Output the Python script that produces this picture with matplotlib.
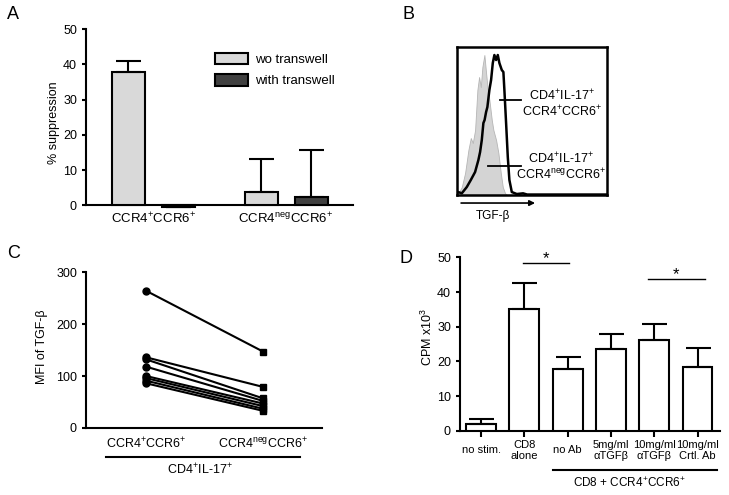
import matplotlib
matplotlib.use("Agg")
import matplotlib.pyplot as plt

plt.rcParams['font.family'] = ['Liberation Sans', 'DejaVu Sans']
plt.rcParams['mathtext.fontset'] = 'custom'
plt.rcParams['mathtext.rm'] = 'Liberation Sans'
plt.rcParams['mathtext.it'] = 'Liberation Sans:italic'
plt.rcParams['mathtext.bf'] = 'Liberation Sans:bold'
plt.rcParams['axes.linewidth'] = 1.5

# ---- data ----
# A: % suppression
a_groups = [r'CCR4$^{+}$CCR6$^{+}$', r'CCR4$^{\rm neg}$CCR6$^{+}$']
a_wo = [37.8, 3.8]
a_wo_err = [3.2, 9.3]
a_with = [-0.5, 2.4]
a_with_err = [0.0, 13.3]

# B: TGF-beta histograms (channel, count)
gray_x = [0, 1.3, 4.7, 8, 11.3, 13.7, 15.7, 18, 20.3, 22, 23.7, 25.3, 27.3, 29, 30.7,
          32.3, 34.7, 36.3, 39, 41.3, 43.7, 45.7, 48, 50]
gray_h = [0, 1.7, 8, 22, 45, 57, 52, 65, 105, 118, 108, 128, 140, 122, 105,
          95, 75, 65, 55, 42, 22, 8, 1.7, 0]
black_x = [0, 0.3, 4.7, 9.7, 13.7, 18, 21.3, 23, 24.7, 26.3, 27.5, 29, 30.3, 32.3, 34,
           35.7, 37.3, 39, 40.7, 42.3, 44.7, 46.3, 47.3, 49, 50.7, 52.3, 54.7, 59.7, 66, 70, 150]
black_h = [2, 3.3, 1.7, 8, 15, 23, 35, 43, 55, 72, 75, 83, 88, 105, 115,
           132, 140, 135, 140, 132, 125, 123, 105, 72, 38, 15, 3, 1, 1.7, 0.5, 0.5]

# C: MFI of TGF-beta, paired
c_pos = [264, 136, 132, 118, 100, 96, 91, 86]
c_neg = [147, 79, 57, 52, 47, 42, 37, 33]
c_labels = [r'CCR4$^{+}$CCR6$^{+}$', r'CCR4$^{\rm neg}$CCR6$^{+}$']

# D: proliferation
d_labels = ['no stim.', 'CD8\nalone', 'no Ab', '5mg/ml\nαTGFβ', '10mg/ml\nαTGFβ', '10mg/ml\nCrtl. Ab']
d_vals = [1.9, 35.1, 17.8, 23.6, 26.1, 18.4]
d_err = [1.5, 7.6, 3.6, 4.3, 4.6, 5.4]

fig = plt.figure(figsize=(7.29, 4.95), dpi=100)

# ---- panel A ----
axA = fig.add_axes([0.118, 0.5745, 0.3663, 0.3669])
off, w = 0.188, 0.248
xs = [0, 1]
axA.bar([x - off for x in xs], a_wo, w, color='#d9d9d9', edgecolor='black', lw=1.5,
        yerr=[[0, 0], a_wo_err], capsize=9, error_kw=dict(lw=1.5, capthick=1.5),
        label='wo transwell', zorder=3)
axA.bar([x + off for x in xs], a_with, w, color='#404040', edgecolor='black', lw=1.5,
        yerr=[[0, 0], a_with_err], capsize=9, error_kw=dict(lw=1.5, capthick=1.5),
        label='with transwell', zorder=3)
axA.set_xlim(-0.504, 1.504)
axA.set_ylim(-1.5, 50)
axA.set_yticks([0, 10, 20, 30, 40, 50])
axA.spines['bottom'].set_position(('data', 0))
axA.spines['left'].set_bounds(0, 50)
for s in ['top', 'right']:
    axA.spines[s].set_visible(False)
axA.set_xticks(xs)
axA.set_xticklabels(a_groups, fontsize=9.5)
axA.tick_params(axis='x', length=0, pad=4)
axA.tick_params(axis='y', length=3, width=1.5, labelsize=9)
axA.text(-0.12, 0.485, '% suppression', rotation=90, ha='center', va='center',
         transform=axA.transAxes, fontsize=9)
axA.legend(loc='upper left', bbox_to_anchor=(0.483, 0.87), frameon=False, fontsize=9.5,
           handlelength=2.5, handleheight=1.0, handletextpad=0.55, labelspacing=0.6,
           borderpad=0, borderaxespad=0)

# ---- panel B ----
axB = fig.add_axes([0.627, 0.606, 0.2058, 0.299])
axB.fill_between(gray_x, gray_h, color='#d4d4d4', edgecolor='#b5b5b5', lw=0.6)
axB.plot(black_x, black_h, color='black', lw=1.8)
axB.set_xlim(0, 150)
axB.set_ylim(0, 148)
axB.set_xticks([])
axB.set_yticks([])
for s in axB.spines.values():
    s.set_linewidth(1.8)
axB.annotate('', xy=(78, -8), xytext=(4, -8), annotation_clip=False,
             arrowprops=dict(arrowstyle='-|>', lw=1.2, color='black', mutation_scale=8,
                             shrinkA=0, shrinkB=0))
axB.text(36, -21, 'TGF-β', ha='center', va='center', fontsize=8.5)
axB.plot([43, 64], [95, 95], color='black', lw=1.3)
axB.text(105, 91, 'CD4$^{+}$IL-17$^{+}$\nCCR4$^{+}$CCR6$^{+}$', ha='center', va='center',
         fontsize=9, linespacing=1.1)
axB.plot([31, 64], [29, 29], color='black', lw=1.3)
axB.text(104, 28.5, 'CD4$^{+}$IL-17$^{+}$\nCCR4$^{\\rm neg}$CCR6$^{+}$', ha='center',
         va='center', fontsize=9, linespacing=1.1)

# ---- panel C ----
axC = fig.add_axes([0.118, 0.1354, 0.3237, 0.315])
for p, n in zip(c_pos, c_neg):
    axC.plot([0, 1], [p, n], color='black', lw=1.5, zorder=2)
axC.plot([0] * len(c_pos), c_pos, 'o', color='black', ms=5, zorder=3)
axC.plot([1] * len(c_neg), c_neg, 's', color='black', ms=5, zorder=3)
axC.set_xlim(-0.513, 1.504)
axC.set_ylim(0, 300)
axC.set_yticks([0, 100, 200, 300])
for s in ['top', 'right']:
    axC.spines[s].set_visible(False)
axC.set_xticks([0, 1])
axC.set_xticklabels(c_labels, fontsize=9)
axC.tick_params(axis='x', length=0, pad=6)
axC.tick_params(axis='y', length=3, width=1.5, labelsize=9)
axC.text(-0.186, 0.52, 'MFI of TGF-β', rotation=90, ha='center', va='center',
         transform=axC.transAxes, fontsize=9)
axC.plot([-0.342, 1.316], [-0.186, -0.186], color='black', lw=1.5,
         transform=axC.get_xaxis_transform(), clip_on=False)
axC.text(0.46, -0.27, 'CD4$^{+}$IL-17$^{+}$', ha='center', va='center', fontsize=9,
         transform=axC.get_xaxis_transform())

# ---- panel D ----
axD = fig.add_axes([0.631, 0.1293, 0.3567, 0.351])
dx = list(range(len(d_vals)))
axD.bar(dx, d_vals, 0.69, color='white', edgecolor='black', lw=1.5,
        yerr=[[0] * len(d_err), d_err], capsize=9, error_kw=dict(lw=1.5, capthick=1.5),
        zorder=3)
axD.set_xlim(-0.485, 5.52)
axD.set_ylim(0, 50)
axD.set_yticks([0, 10, 20, 30, 40, 50])
for s in ['top', 'right']:
    axD.spines[s].set_visible(False)
axD.set_xticks(dx)
axD.set_xticklabels(d_labels, fontsize=8, linespacing=1.1)
for lab in axD.get_xticklabels():
    lab.set_verticalalignment('center')
axD.tick_params(axis='x', length=4, width=1.5, pad=10)
axD.tick_params(axis='y', length=3, width=1.5, labelsize=9)
axD.text(-0.125, 0.54, r'CPM x10$^{3}$', rotation=90, ha='center', va='center',
         transform=axD.transAxes, fontsize=9)
axD.plot([0.965, 2.03], [48.4, 48.4], color='black', lw=1.0, clip_on=False)
axD.text(1.5, 49.6, '*', ha='center', va='center', fontsize=12)
axD.plot([3.86, 5.17], [43.8, 43.8], color='black', lw=1.0, clip_on=False)
axD.text(4.5, 45.0, '*', ha='center', va='center', fontsize=12)
axD.plot([1.66, 5.45], [-0.2245, -0.2245], color='black', lw=1.5,
         transform=axD.get_xaxis_transform(), clip_on=False)
axD.text(3.42, -0.30, 'CD8 + CCR4$^{+}$CCR6$^{+}$', ha='center', va='center', fontsize=8.5,
         transform=axD.get_xaxis_transform())

# panel letters
for lbl, x, y in [('A', 0.018, 0.970), ('B', 0.560, 0.970), ('C', 0.019, 0.487), ('D', 0.557, 0.477)]:
    fig.text(x, y, lbl, ha='center', va='center', fontsize=13)

fig.savefig('out.png', dpi=100)
